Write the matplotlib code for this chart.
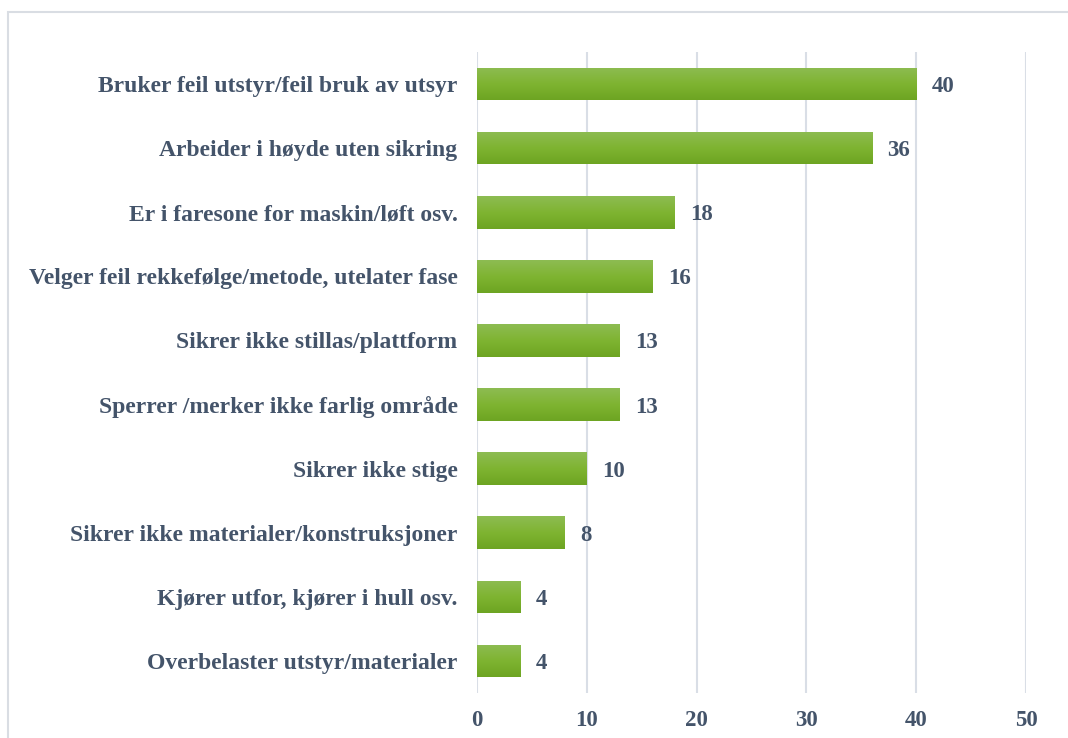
import numpy as np
import matplotlib.pyplot as plt
from matplotlib.patches import Rectangle
from matplotlib.colors import LinearSegmentedColormap

categories = [
    "Bruker feil utstyr/feil bruk av utsyr",
    "Arbeider i høyde uten sikring",
    "Er i faresone for maskin/løft osv.",
    "Velger feil rekkefølge/metode, utelater fase",
    "Sikrer ikke stillas/plattform",
    "Sperrer /merker ikke farlig område",
    "Sikrer ikke stige",
    "Sikrer ikke materialer/konstruksjoner",
    "Kjører utfor, kjører i hull osv.",
    "Overbelaster utstyr/materialer",
]
values = [40, 36, 18, 16, 13, 13, 10, 8, 4, 4]
xticks = [0, 10, 20, 30, 40, 50]

text_color = "#44546A"
plt.rcParams['font.family'] = ['Liberation Serif', 'DejaVu Serif']
plt.rcParams['font.weight'] = 'bold'

fig = plt.figure(figsize=(10.68, 7.38), dpi=100)
ax = fig.add_axes([477/1068, 1 - 693/738, 549/1068, 641/738])

# frame around the chart area
fig.patches.append(Rectangle((8/1068, -0.1), 1.2, 1.1 - 12/738, transform=fig.transFigure,
                             fill=False, edgecolor="#D9DDE3", lw=1.5))

y = np.arange(len(categories))[::-1]
bars = ax.barh(y, values, height=0.51, color="none", zorder=3)

# vertical green gradient on each bar
grad = LinearSegmentedColormap.from_list("g", ["#6DA422", "#7FB431", "#8DBC52"])
img = np.linspace(0, 1, 100).reshape(-1, 1)
for b in bars:
    x0, y0 = b.get_x(), b.get_y()
    w, h = b.get_width(), b.get_height()
    im = ax.imshow(img, cmap=grad, aspect="auto", origin="lower",
                   extent=[x0, x0 + w, y0, y0 + h], zorder=3)
    im.set_clip_path(b)

for yi, v in zip(y, values):
    ax.annotate(str(v), (v, yi), xytext=(11, 0), textcoords="offset points",
                va="center_baseline", ha="left", fontsize=16.5, color=text_color,
                fontweight="bold")

ax.set_xlim(0, 50)
ax.set_ylim(-0.5, len(categories) - 0.5)
ax.set_xticks(xticks)
ax.set_yticks(y)
ax.set_yticklabels(categories)
ax.tick_params(axis="both", length=0, labelcolor=text_color)
ax.tick_params(axis="y", pad=14, labelsize=17)
ax.tick_params(axis="x", pad=12, labelsize=16.5)
ax.grid(axis="x", color="#D9DEE6", lw=1.5, zorder=0)
ax.set_axisbelow(True)
for s in ax.spines.values():
    s.set_visible(False)

plt.savefig("out.png", dpi=100)
